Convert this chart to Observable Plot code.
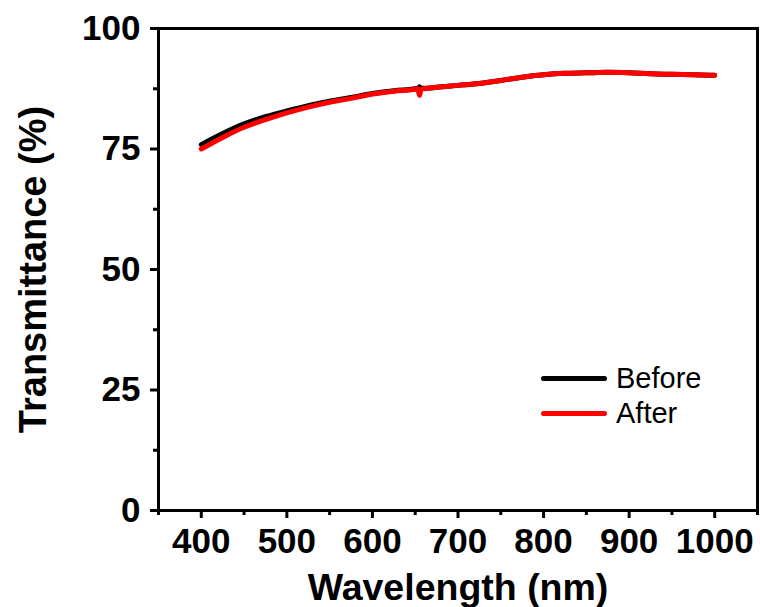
<!DOCTYPE html>
<html>
<head>
<meta charset="utf-8">
<script src="https://cdn.jsdelivr.net/npm/d3@7"></script>
<script src="https://cdn.jsdelivr.net/npm/@observablehq/plot@0.6"></script>
<style>
  html, body { margin: 0; padding: 0; background: white; }
  #wrap { position: relative; width: 760px; height: 607px; overflow: hidden; }
  #legend { position: absolute; left: 541px; top: 361px; font-family: "Liberation Sans", Arial, sans-serif; font-size: 29px; color: #000; }
  .row { display: flex; align-items: center; height: 35px; }
  .sw { width: 66px; height: 5px; border-radius: 3px; margin-right: 9px; }
</style>
</head>
<body>
<div id="wrap"></div>
<script>
const wavelength = [400, 425, 450, 475, 500, 525, 550, 575, 600, 625, 650, 653, 655, 657, 660, 675, 700, 725, 750, 775, 800, 825, 850, 875, 900, 925, 950, 975, 1000];
const before =     [75.9, 78.2, 80.2, 81.7, 82.9, 84.0, 84.9, 85.7, 86.5, 87.1, 87.5, 87.6, 87.9, 87.6, 87.6, 87.8, 88.2, 88.6, 89.2, 89.9, 90.4, 90.7, 90.8, 90.9, 90.8, 90.6, 90.5, 90.4, 90.3];
const after =      [75.0, 77.4, 79.5, 81.1, 82.5, 83.7, 84.7, 85.5, 86.4, 87.0, 87.4, 87.5, 86.1, 87.4, 87.5, 87.8, 88.2, 88.6, 89.2, 89.9, 90.4, 90.7, 90.8, 90.9, 90.8, 90.6, 90.5, 90.4, 90.3];
const seriesNames = ["Before", "After"];
const seriesColors = ["#000000", "#ff0000"];
const xMajor = [400, 500, 600, 700, 800, 900, 1000];
const xMinor = [350, 450, 550, 650, 750, 850, 950, 1050];
const yMajor = [0, 25, 50, 75, 100];
const yMinor = [12.5, 37.5, 62.5, 87.5];

const rows = [];
seriesNames.forEach((s, k) => {
  const vals = k === 0 ? before : after;
  wavelength.forEach((w, i) => rows.push({series: s, x: w, y: vals[i]}));
});

const font = "Liberation Sans, Arial, sans-serif";
const chart = Plot.plot({
  width: 760,
  height: 607,
  marginLeft: 158,
  marginRight: 3,
  marginTop: 28,
  marginBottom: 97,
  style: {fontFamily: font, background: "white", color: "black"},
  x: {domain: [350, 1050]},
  y: {domain: [0, 100]},
  marks: [
    Plot.line(rows.filter(d => d.series === "Before"), {x: "x", y: "y", stroke: seriesColors[0], strokeWidth: 5, curve: "monotone-x"}),
    Plot.line(rows.filter(d => d.series === "After"), {x: "x", y: "y", stroke: seriesColors[1], strokeWidth: 5, curve: "monotone-x"}),
    Plot.frame({stroke: "black", strokeWidth: 3}),
    Plot.axisX({ticks: xMajor, tickSize: 8, strokeWidth: 3, tickPadding: 10, fontSize: 35, fontWeight: "bold", label: null, tickFormat: d => String(d)}),
    Plot.axisX({ticks: xMinor, tickSize: 5, strokeWidth: 3, text: null, label: null}),
    Plot.axisY({ticks: yMajor, tickSize: 8, strokeWidth: 3, tickPadding: 10, fontSize: 35, fontWeight: "bold", label: null, tickFormat: d => String(d)}),
    Plot.axisY({ticks: yMinor, tickSize: 5, strokeWidth: 3, text: null, label: null}),
    Plot.text(["Wavelength (nm)"], {frameAnchor: "bottom", textAnchor: "middle", text: d => d, dy: 77, fontSize: 37.5, fontWeight: "bold", lineAnchor: "middle"}),
    Plot.text(["Transmittance (%)"], {frameAnchor: "left", textAnchor: "middle", text: d => d, dx: -125, rotate: -90, fontSize: 38, fontWeight: "bold", lineAnchor: "middle"})
  ]
});
const wrap = document.getElementById("wrap");
wrap.appendChild(chart);

const legend = document.createElement("div");
legend.id = "legend";
seriesNames.forEach((s, k) => {
  const r = document.createElement("div");
  r.className = "row";
  const sw = document.createElement("div");
  sw.className = "sw";
  sw.style.background = seriesColors[k];
  const t = document.createElement("span");
  t.textContent = s;
  r.appendChild(sw);
  r.appendChild(t);
  legend.appendChild(r);
});
wrap.appendChild(legend);
</script>
</body>
</html>
